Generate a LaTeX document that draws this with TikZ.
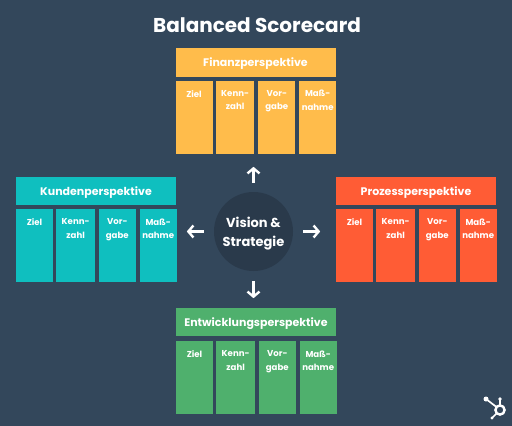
\documentclass[tikz,border=0pt]{standalone}
\usepackage{fontspec}
\setmainfont{Poppins}
\usetikzlibrary{positioning, arrows.meta}
\definecolor{bgblue}{HTML}{33475B}
\definecolor{circblue}{HTML}{2A3A4B}
\definecolor{finorange}{HTML}{FFBC4B}
\definecolor{kundteal}{HTML}{0FBFBF}
\definecolor{prozred}{HTML}{FF5C35}
\definecolor{entwgreen}{HTML}{4FB06D}
\newcommand{\coltxt}[1]{\parbox[c][73pt][t]{37pt}{\centering\vspace*{9.5pt}#1}}

\begin{document}
\begin{tikzpicture}[
  x=1pt, y=-1pt,
  head/.style={text=white, font=\fontsize{11}{13}\selectfont\bfseries, text height=8pt, text depth=0pt, minimum width=160pt, minimum height=28.5pt, inner sep=0pt},
  col/.style={text=white, font=\fontsize{8.6}{13.5}\selectfont\bfseries, minimum width=37pt, minimum height=73pt, inner sep=0pt},
  arr/.style={draw=white, line width=2.4pt, -{Straight Barb[length=5pt, width=12pt, line width=2.4pt]}}
]
\fill[bgblue] (0,0) rectangle (512,426);
\useasboundingbox (0,0) rectangle (512,426);

\node (T) [text=white, font=\fontsize{20}{24}\selectfont\bfseries] at (257,25) {Balanced Scorecard};

% Finanzen
\node (FH) [head, fill=finorange] at (255.5,62.5) {Finanzperspektive};
\node (F1) [col, fill=finorange, below right=3.5pt and 0pt of FH.south west] {\coltxt{Ziel}};
\node (F2) [col, fill=finorange, right=3pt of F1, minimum width=38.5pt] {\coltxt{Kenn-\\zahl}};
\node (F3) [col, fill=finorange, right=3.5pt of F2] {\coltxt{Vor-\\gabe}};
\node (F4) [col, fill=finorange, right=3.5pt of F3] {\coltxt{Maß-\\nahme}};

% Kunden
\node (KH) [head, fill=kundteal] at (96,191) {Kundenperspektive};
\node (K1) [col, fill=kundteal, below right=3.5pt and 0pt of KH.south west] {\coltxt{Ziel}};
\node (K2) [col, fill=kundteal, right=3pt of K1, minimum width=38.5pt] {\coltxt{Kenn-\\zahl}};
\node (K3) [col, fill=kundteal, right=3.5pt of K2] {\coltxt{Vor-\\gabe}};
\node (K4) [col, fill=kundteal, right=3.5pt of K3] {\coltxt{Maß-\\nahme}};

% Prozesse
\node (PH) [head, fill=prozred] at (416,191) {Prozessperspektive};
\node (P1) [col, fill=prozred, below right=3.5pt and 0pt of PH.south west] {\coltxt{Ziel}};
\node (P2) [col, fill=prozred, right=3pt of P1, minimum width=38.5pt] {\coltxt{Kenn-\\zahl}};
\node (P3) [col, fill=prozred, right=3.5pt of P2] {\coltxt{Vor-\\gabe}};
\node (P4) [col, fill=prozred, right=3.5pt of P3] {\coltxt{Maß-\\nahme}};

% Entwicklung
\node (EH) [head, fill=entwgreen] at (256,322) {Entwicklungsperspektive};
\node (E1) [col, fill=entwgreen, below right=4.5pt and 0pt of EH.south west] {\coltxt{Ziel}};
\node (E2) [col, fill=entwgreen, right=3pt of E1, minimum width=38.5pt] {\coltxt{Kenn-\\zahl}};
\node (E3) [col, fill=entwgreen, right=3.5pt of E2] {\coltxt{Vor-\\gabe}};
\node (E4) [col, fill=entwgreen, right=3.5pt of E3] {\coltxt{Maß-\\nahme}};

% Mitte
\node (V) [circle, fill=circblue, text=white, minimum size=79pt, inner sep=0pt, font=\fontsize{13}{19}\selectfont\bfseries] at (253.5,231.5) {\parbox[c][40pt][c]{64pt}{\centering\vspace*{5pt}Vision \&\\Strategie}};

\coordinate[above=9pt of V] (NS);
\coordinate[above=25pt of V] (NE);
\coordinate[below=10pt of V] (SS);
\coordinate[below=27pt of V] (SE);
\coordinate[left=10pt of V] (WS);
\coordinate[left=27pt of V] (WE);
\coordinate[right=10pt of V] (OS);
\coordinate[right=27pt of V] (OE);
\draw[arr] (NS) -- (NE);
\draw[arr] (SS) -- (SE);
\draw[arr] (WS) -- (WE);
\draw[arr] (OS) -- (OE);

% Logo
\draw[white, line width=2.4pt] (500,410) circle (4.6pt);
\draw[white, line width=1.7pt] (486,399) -- (496.5,407);
\draw[white, line width=1.7pt] (500,399) -- (500,405);
\draw[white, line width=1.7pt] (492,418) -- (496.5,413.5);
\fill[white] (486,399) circle (2.5pt) (500,399) circle (1.9pt) (492,418) circle (1.7pt);
\end{tikzpicture}
\end{document}
